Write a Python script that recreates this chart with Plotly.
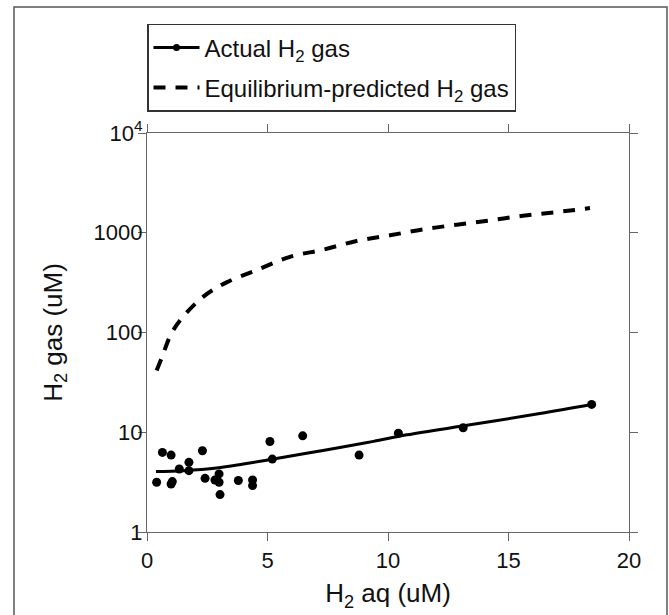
import plotly.graph_objects as go

# Actual H2 gas measurements
actual_x = [0.4, 0.64, 1.0, 1.0, 1.05, 1.34, 1.74, 1.74, 2.3, 2.41, 2.82, 2.99, 2.99, 3.03,
            3.79, 4.38, 4.38, 5.1, 5.2, 6.46, 8.8, 10.43, 13.12, 18.45]
actual_y = [3.15, 6.28, 5.9, 3.03, 3.2, 4.28, 4.99, 4.12, 6.52, 3.45, 3.32, 3.82, 3.15, 2.37,
            3.28, 3.32, 2.92, 8.08, 5.38, 9.2, 5.9, 9.78, 11.1, 19.0]

# Fitted curve through actual data
fit_x = [0.37, 1.5, 2.89, 4.0, 5.24, 6.5, 8.0, 9.4, 10.78, 13.54, 16.3, 18.45]
fit_y = [4.03, 4.12, 4.38, 4.8, 5.38, 6.1, 7.03, 8.1, 9.42, 12.0, 15.4, 19.0]

# Equilibrium-predicted H2 gas
eq_x = [0.4, 0.61, 1.02, 1.51, 2.34, 3.3, 4.55, 5.93, 7.32, 8.7, 10.08, 11.46, 12.85, 14.23,
        15.6, 17.0, 18.38]
eq_y = [41.5, 55.6, 98.6, 145, 229, 318, 422, 574, 677, 828, 942, 1081, 1204, 1330,
        1480, 1610, 1767]

y_tickvals = [1, 10, 100, 1000, 10000]
y_ticktext = ["1", "10", "100", "1000", "10<sup>4</sup>"]
x_tickvals = [0, 5, 10, 15, 20]

FONT = "Liberation Sans, Arial, sans-serif"

fig = go.Figure()

fig.add_trace(go.Scatter(
    x=fit_x, y=fit_y, mode="lines", line_shape="spline",
    line=dict(color="black", width=3), showlegend=False, hoverinfo="skip"))
fig.add_trace(go.Scatter(
    x=actual_x, y=actual_y, mode="markers", showlegend=False,
    marker=dict(color="black", size=9)))
# legend entries
fig.add_trace(go.Scatter(
    x=[None], y=[None], mode="lines+markers", name="Actual H<sub>2</sub> gas",
    legendgroup="a",
    line=dict(color="black", width=3), marker=dict(color="black", size=7)))
fig.add_trace(go.Scatter(
    x=eq_x, y=eq_y, mode="lines", line_shape="spline",
    name="Equilibrium-predicted H<sub>2</sub> gas", legendgroup="b",
    line=dict(color="black", width=4, dash="12px,10px")))

# outer figure frame
fig.add_shape(type="rect", xref="paper", yref="paper",
              x0=(14 - 147) / 482, x1=(667 - 147) / 482,
              y0=-0.3, y1=(535 - 6) / 402,
              line=dict(color="#555", width=1.5), layer="below")

fig.update_layout(
    width=669, height=615,
    margin=dict(l=147, r=40, t=133, b=80),
    paper_bgcolor="white", plot_bgcolor="white",
    font=dict(family=FONT, size=22, color="#111"),
    legend=dict(x=0, y=(535 - 23) / 402, xanchor="left", yanchor="top",
                bordercolor="#333", borderwidth=1.5, bgcolor="white",
                font=dict(size=24), itemwidth=46, tracegroupgap=6),
    xaxis=dict(range=[0, 20], tickvals=x_tickvals, ticks="outside", ticklen=8,
               showline=True, linecolor="#666", linewidth=1.2, mirror="ticks",
               tickcolor="#666", showgrid=False, zeroline=False,
               title=dict(text="H<sub>2</sub> aq (uM)", standoff=12),
               tickfont=dict(size=22)),
    yaxis=dict(type="log", range=[0, 4], tickvals=y_tickvals, ticktext=y_ticktext,
               ticks="outside", ticklen=8, showline=True, linecolor="#666",
               linewidth=1.2, mirror="ticks", tickcolor="#666", showgrid=False,
               zeroline=False, ticklabelstandoff=-9,
               title=dict(text="H<sub>2</sub> gas (uM)", standoff=23),
               tickfont=dict(size=22)),
)

fig.write_html("out.html")
